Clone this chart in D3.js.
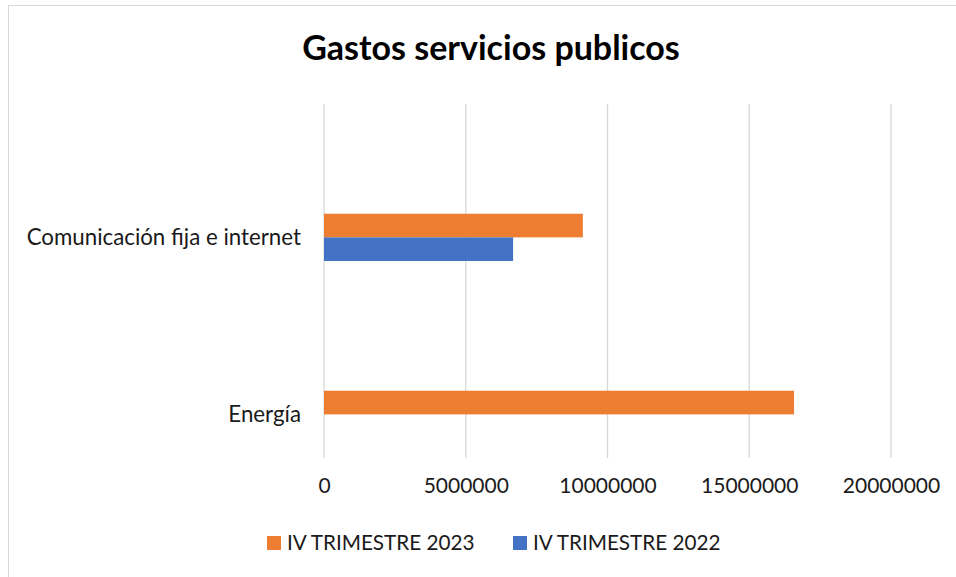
<!DOCTYPE html>
<html>
<head>
<meta charset="utf-8">
<script src="https://cdn.jsdelivr.net/npm/d3@7"></script>
<style>
  body { margin: 0; background: #fff; }
  text { font-family: Lato, "Open Sans", sans-serif; }
</style>
</head>
<body>
<div></div>
<script>
const width = 956;
const height = 577;

const categories = ["Comunicación fija e internet", "Energía"];
const series = ["IV TRIMESTRE 2023", "IV TRIMESTRE 2022"];
const values2023 = [9130000, 16580000];
const values2022 = [6670000, 0];
const xTicks = [0, 5000000, 10000000, 15000000, 20000000];
const colours = ["#ED7D31", "#4472C4"];

const svg = d3
  .select("div")
  .append("svg")
  .attr("width", width)
  .attr("height", height);

// chart frame (only top and left edges visible in the picture)
svg.append("rect")
  .attr("x", 8.5).attr("y", 5.5)
  .attr("width", 960).attr("height", 600)
  .attr("fill", "#fff")
  .attr("stroke", "#d9d9d9");

svg.append("text")
  .attr("x", 491).attr("y", 60)
  .attr("text-anchor", "middle")
  .attr("font-weight", "bold")
  .attr("font-size", 34)
  .attr("fill", "#000")
  .text("Gastos servicios publicos");

const plot = { left: 324, right: 891, top: 104, bottom: 458 };

const x = d3.scaleLinear()
  .domain([0, 20000000])
  .range([plot.left, plot.right]);

const y = d3.scaleBand()
  .domain(categories)
  .range([plot.top, plot.bottom]);

// bars sit low inside each category band
const ySub = d3.scaleBand()
  .domain(series)
  .range([y.bandwidth() * 0.62, y.bandwidth() * 0.887]);

// gridlines
svg.append("g")
  .selectAll("line")
  .data(xTicks)
  .enter()
  .append("line")
  .attr("x1", d => x(d)).attr("x2", d => x(d))
  .attr("y1", plot.top).attr("y2", plot.bottom)
  .attr("stroke", "#d9d9d9")
  .attr("stroke-width", 1.3);

const rows = categories.map((c, i) => ({
  cat: c,
  vals: [values2023[i], values2022[i]]
}));

const groups = svg.append("g")
  .selectAll("g")
  .data(rows)
  .enter()
  .append("g")
  .attr("transform", d => "translate(0," + y(d.cat) + ")");

groups.selectAll("rect")
  .data(d => d.vals.map((v, i) => ({ s: series[i], v: v, i: i })))
  .enter()
  .append("rect")
  .attr("x", x(0))
  .attr("y", d => ySub(d.s))
  .attr("width", d => x(d.v) - x(0))
  .attr("height", ySub.bandwidth())
  .attr("fill", d => colours[d.i]);

// category labels
groups.append("text")
  .attr("x", 301)
  .attr("y", ySub("IV TRIMESTRE 2022"))
  .attr("dy", "0.35em")
  .attr("text-anchor", "end")
  .attr("font-size", 22.3)
  .attr("fill", "#1a1a1a")
  .text(d => d.cat);

// x axis labels
const xAxis = d3.axisBottom(x)
  .tickValues(xTicks)
  .tickFormat(d3.format("d"))
  .tickSize(0)
  .tickPadding(0);

const axisG = svg.append("g")
  .attr("transform", "translate(0," + 478 + ")")
  .call(xAxis);
axisG.select(".domain").remove();
axisG.selectAll("text")
  .attr("font-family", "Lato, 'Open Sans', sans-serif")
  .attr("font-size", 21)
  .attr("fill", "#1a1a1a");

// legend
const legendX = [267, 513];
const legend = svg.append("g")
  .selectAll("g")
  .data(series)
  .enter()
  .append("g")
  .attr("transform", (d, i) => "translate(" + legendX[i] + ",536)");

legend.append("rect")
  .attr("width", 14).attr("height", 14)
  .attr("fill", (d, i) => colours[i]);

legend.append("text")
  .attr("x", 20).attr("y", 14)
  .attr("font-size", 20.7)
  .attr("fill", "#1a1a1a")
  .text(d => d);
</script>
</body>
</html>
